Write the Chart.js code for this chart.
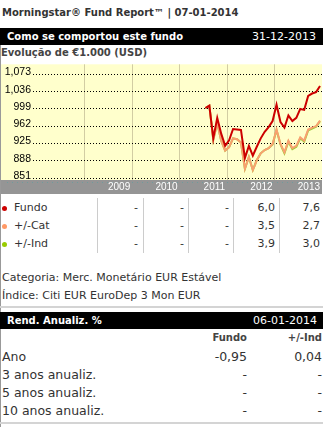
<!DOCTYPE html>
<html>
<head>
<meta charset="utf-8">
<script src="https://cdn.jsdelivr.net/npm/chart.js@4.4.1/dist/chart.umd.min.js"></script>
<style>
  body { margin: 0; width: 328px; height: 427px; background: #fff; position: relative; overflow: hidden;
         font-family: "DejaVu Sans", Verdana, sans-serif; color: #333; }
  .t { position: absolute; white-space: nowrap; }
  .b { font-weight: bold; font-size: 10px; }
  .bar { position: absolute; left: 0; width: 323px; height: 17px; line-height: 17px; background: #000; color: #fff; }
  .bar span { position: absolute; top: 0; }
  .sep { position: absolute; top: 198px; height: 55px; width: 1px; background: #ccc; }
  .hl { position: absolute; left: 0; width: 323px; height: 2px; background: #d4d4d4; }
  .dot { position: absolute; width: 5px; height: 5px; border-radius: 50%; }
  #chartBox { position: absolute; left: 0; top: 56px; width: 323px; height: 138px; }
</style>
</head>
<body>
<div class="t b" style="left:2px;top:5px;height:16px;line-height:16px;">Morningstar® Fund Report™ | 07-01-2014</div>
<div class="bar b" style="top:28px;"><span style="left:7px;">Como se comportou este fundo</span><span style="right:7px;font-weight:normal;font-size:11px;">31-12-2013</span></div>
<div class="t b" style="left:1px;top:45px;height:15px;line-height:15px;color:#444;">Evolução de €1.000 (USD)</div>
<div style="position:absolute;left:0;top:45px;width:1px;height:382px;background:#999;"></div>
<div id="chartBox"><canvas id="chart" width="323" height="138"></canvas></div>
<div id="perf"></div>
<div class="t" style="left:2px;top:270px;height:16px;line-height:16px;font-size:11px;">Categoria: Merc. Monetário EUR Estável</div>
<div class="t" style="left:2px;top:288px;height:16px;line-height:16px;font-size:11px;">Índice: Citi EUR EuroDep 3 Mon EUR</div>
<div class="hl" style="top:306px;"></div>
<div class="bar b" style="top:312px;"><span style="left:7px;">Rend. Anualiz. %</span><span style="right:6px;font-weight:normal;font-size:11px;">06-01-2014</span></div>
<div id="rend"></div>
<div class="hl" style="top:422px;"></div>
<script>
// monthly values of €1.000 invested (USD)
const months = ['2011-07', '2011-08', '2011-09', '2011-10', '2011-11', '2011-12',
  '2012-01', '2012-02', '2012-03', '2012-04', '2012-05', '2012-06',
  '2012-07', '2012-08', '2012-09', '2012-10', '2012-11', '2012-12',
  '2013-01', '2013-02', '2013-03', '2013-04', '2013-05', '2013-06',
  '2013-07', '2013-08', '2013-09', '2013-10', '2013-11', '2013-12'];
const fundo = [1001, 1006, 936, 980, 946, 920, 932, 956, 955, 954, 894, 920,
  899, 918, 936, 950, 960, 973, 1008, 971, 959, 985, 973, 980,
  999, 997, 1027, 1032, 1035, 1048];
const cat = [1001, 1006, 933, 969, 931, 910, 917, 936, 934, 927, 871, 896,
  868, 889, 904, 911, 915, 924, 955, 924, 906, 931, 915, 920,
  938, 931, 955, 959, 962, 974];
const ind = [1001, 1006, 933, 969, 931, 910, 917, 936, 934, 927, 871, 896,
  868, 889, 904, 911, 915, 923, 954, 923, 904, 929, 913, 918,
  936, 929, 953, 957, 961, 973];
const yTicks = [851, 888, 925, 962, 999, 1036, 1073];
const years = ['2009', '2010', '2011', '2012', '2013'];

// table under the chart
const rowNames = ['Fundo', '+/-Cat', '+/-Ind'];
const rowColors = ['#cc0000', '#ff9966', '#99cc00'];
const rowValues = [
  ['-', '-', '-', '6,0', '7,6'],
  ['-', '-', '-', '3,5', '2,7'],
  ['-', '-', '-', '3,9', '3,0']
];
const rendHead = ['Fundo', '+/-Ind'];
const rendRows = [
  ['Ano', '-0,95', '0,04'],
  ['3 anos anualiz.', '-', '-'],
  ['5 anos anualiz.', '-', '-'],
  ['10 anos anualiz.', '-', '-']
];

const colRight = [138, 184, 229, 275, 320];
const sepX = [97, 143, 188, 233, 279];

let html = '';
sepX.forEach(x => { html += `<div class="sep" style="left:${x}px;"></div>`; });
rowNames.forEach((name, i) => {
  const top = 199 + i * 18;
  html += `<div class="dot" style="left:2px;top:${top + 7}px;background:${rowColors[i]};"></div>`;
  html += `<div class="t" style="left:14px;top:${top}px;height:18px;line-height:18px;font-size:11px;">${name}</div>`;
  rowValues[i].forEach((v, j) => {
    html += `<div class="t" style="right:${328 - colRight[j]}px;top:${top}px;height:18px;line-height:18px;font-size:11px;">${v}</div>`;
  });
});
document.getElementById('perf').innerHTML = html;

const rendRight = [247, 322];
html = '';
rendHead.forEach((h, j) => {
  html += `<div class="t b" style="right:${328 - rendRight[j]}px;top:330px;height:16px;line-height:16px;color:#444;">${h}</div>`;
});
rendRows.forEach((r, i) => {
  const top = 348 + i * 18;
  html += `<div class="t" style="left:2px;top:${top}px;height:18px;line-height:18px;font-size:12.5px;">${r[0]}</div>`;
  for (let j = 1; j < 3; j++) {
    html += `<div class="t" style="right:${328 - rendRight[j - 1]}px;top:${top}px;height:18px;line-height:18px;font-size:12.5px;">${r[j]}</div>`;
  }
});
document.getElementById('rend').innerHTML = html;

// month -> decimal year, middle of the month
function toX(m) {
  const [y, mo] = m.split('-').map(Number);
  return y + (mo - 0.5) / 12;
}
const pts = arr => arr.map((v, i) => ({ x: toX(months[i]), y: v }));

const panel = {
  id: 'panel',
  beforeDraw(chart) {
    const { ctx, chartArea: a } = chart;
    ctx.save();
    ctx.fillStyle = '#ffffcc';
    ctx.fillRect(1, a.top, a.right - 1, a.bottom - a.top);
    ctx.fillStyle = '#959595';
    ctx.fillRect(1, a.bottom, a.right - 1, 14);
    ctx.strokeStyle = '#6f9c9c';
    ctx.setLineDash([1, 4]);
    ctx.beginPath();
    ctx.moveTo(7, a.bottom + 2.5);
    ctx.lineTo(a.right, a.bottom + 2.5);
    ctx.stroke();
    ctx.restore();
  }
};

new Chart(document.getElementById('chart'), {
  type: 'line',
  data: {
    datasets: [
      { label: 'Fundo', data: pts(fundo), borderColor: '#cc0000', borderWidth: 2, pointRadius: 0, tension: 0 },
      { label: '+/-Cat', data: pts(cat), borderColor: '#f9a070', borderWidth: 2, pointRadius: 0, tension: 0 },
      { label: '+/-Ind', data: pts(ind), borderColor: '#99cc33', borderWidth: 2, pointRadius: 0, tension: 0 }
    ]
  },
  options: {
    responsive: false,
    devicePixelRatio: 1,
    animation: false,
    layout: { padding: { top: 6, left: 0, right: 0, bottom: 0 } },
    plugins: { legend: { display: false }, tooltip: { enabled: false } },
    scales: {
      x: {
        type: 'linear',
        min: 2007.908,
        max: 2014,
        afterBuildTicks: s => { s.ticks = [2009, 2010, 2011, 2012, 2013, 2014].map(v => ({ value: v })); },
        afterFit: s => { s.height = 14; },
        ticks: {
          autoSkip: false, maxRotation: 0, align: 'end', labelOffset: -2, padding: 1,
          color: '#fff', font: { family: 'Liberation Sans', size: 10 },
          callback: v => years.includes(String(v - 1)) ? String(v - 1) : ''
        },
        grid: {
          drawTicks: false,
          color: c => (c.tick && c.tick.value === 2014) ? 'rgba(0,0,0,0)' : '#d2cda3'
        },
        border: { display: false }
      },
      y: {
        min: 846.8,
        max: 1094.6,
        afterBuildTicks: s => { s.ticks = yTicks.map(v => ({ value: v })); },
        afterFit: s => { s.width = 33; },
        ticks: {
          padding: 2, labelOffset: -2, color: '#000',
          font: { family: 'Liberation Sans', size: 10.5 },
          callback: v => v.toLocaleString('en-US')
        },
        grid: { drawTicks: false, color: '#000', lineWidth: 1 },
        border: { display: false, dash: [1, 2] }
      }
    }
  },
  plugins: [panel]
});
</script>
</body>
</html>
